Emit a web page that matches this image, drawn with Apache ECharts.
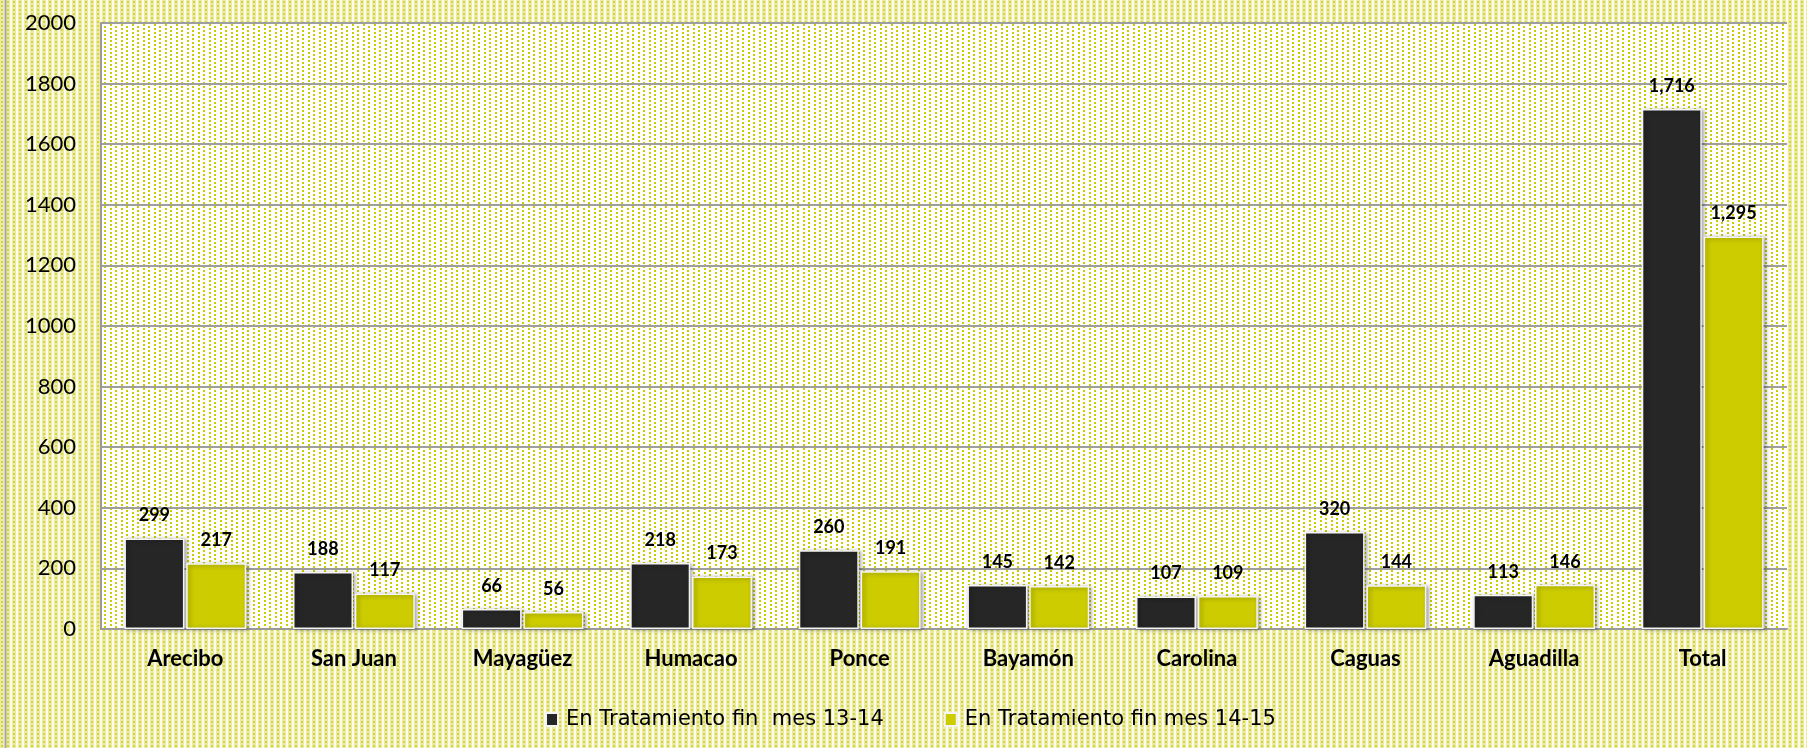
<!DOCTYPE html>
<html>
<head>
<meta charset="utf-8">
<script src="https://cdn.jsdelivr.net/npm/echarts@6/dist/echarts.min.js"></script>
<style>
html,body{margin:0;padding:0;}
#chart{width:1807px;height:748px;}
</style>
</head>
<body>
<div id="chart"></div>
<script>
const categories = ['Arecibo','San Juan','Mayagüez','Humacao','Ponce','Bayamón','Carolina','Caguas','Aguadilla','Total'];
const seriesNames = ['En Tratamiento fin  mes 13-14','En Tratamiento fin mes 14-15'];
const values1314 = [299,188,66,218,260,145,107,320,113,1716];
const values1415 = [217,117,56,173,191,142,109,144,146,1295];
const yTicks = {min:0, max:2000, interval:200};

function makeTile(w,h,draw){
  const c=document.createElement('canvas');c.width=w;c.height=h;
  const g=c.getContext('2d');draw(g);return c;
}
// outer dotted pattern
const outerTile = makeTile(6,4,g=>{
  g.fillStyle='#fbfbee';g.fillRect(0,0,6,4);
  g.fillStyle='#ebeba6';g.fillRect(0,0,4,4);
  g.fillStyle='#d6d640';g.fillRect(1,1,2,2);
});
// inner dashed vertical pattern
const innerTile = makeTile(11,4,g=>{
  g.fillStyle='#ffffff';g.fillRect(0,0,11,4);
  g.fillStyle='#cccc00';
  g.fillRect(0,0,2,2);
  g.fillRect(5,2,2,2);
});
const el=document.getElementById('chart');
el.style.backgroundImage='url('+outerTile.toDataURL()+')';
el.style.backgroundRepeat='repeat';

const chart = echarts.init(el,null,{renderer:'canvas'});
const fmt = p => p.value.toLocaleString('en-US');
const labelStyle = {show:true, position:'top', distance:14, formatter:fmt,
  fontFamily:'Lato', fontWeight:'bold', fontSize:18, color:'#000'};
const barStyle = (c)=>({color:c, borderColor:'#f4f4f4', borderWidth:1.5,
  shadowBlur:4, shadowColor:'rgba(0,0,0,0.35)', shadowOffsetX:2, shadowOffsetY:1});

chart.setOption({
  backgroundColor:'transparent',
  animation:false,
  grid:{left:101,right:20,top:23,bottom:119,show:true,
    backgroundColor:{image:innerTile,repeat:'repeat'},borderWidth:0},
  legend:{
    data:seriesNames, left:540, top:704, itemWidth:12, itemHeight:13, itemGap:60,
    icon:'rect',
    textStyle:{fontFamily:'DejaVu Sans',fontSize:21,color:'#000',padding:[0,0,0,3]}
  },
  xAxis:{type:'category',data:categories,
    axisLine:{show:true,lineStyle:{color:'#9a9a9a',width:2}},
    axisTick:{show:false},
    axisLabel:{fontFamily:'Lato',fontWeight:'bold',fontSize:22,color:'#000',margin:19}
  },
  yAxis:{type:'value',min:yTicks.min,max:yTicks.max,interval:yTicks.interval,
    axisLine:{show:true,lineStyle:{color:'#9a9a9a',width:2}},
    axisTick:{show:false},
    splitLine:{show:true,lineStyle:{color:'#9e9e9e',width:2}},
    axisLabel:{fontFamily:'Lato',fontSize:22,color:'#000',margin:25,formatter:v=>String(v)}
  },
  series:[
    {name:seriesNames[0],type:'bar',data:values1314,barWidth:60,barGap:'3%',
     itemStyle:barStyle('#262626'),label:labelStyle},
    {name:seriesNames[1],type:'bar',data:values1415,barWidth:60,barGap:'3%',
     itemStyle:barStyle('#cccc00'),label:labelStyle}
  ],
  graphic:[{type:'line',shape:{x1:5.5,y1:0,x2:5.5,y2:748},style:{stroke:'#a8a8a8',lineWidth:2},silent:true}]
});
</script>
</body>
</html>
